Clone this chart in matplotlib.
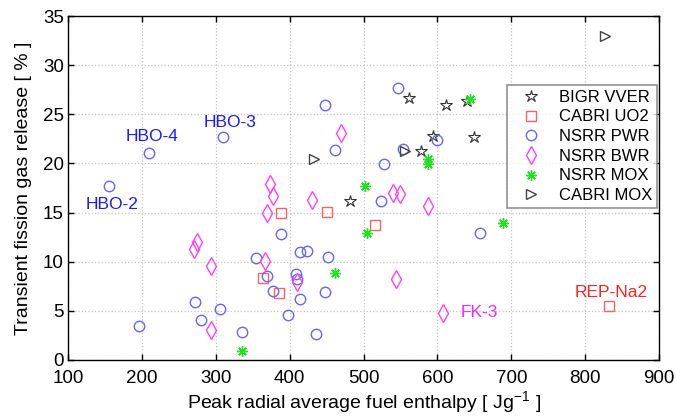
import matplotlib
matplotlib.use("Agg")
import matplotlib.pyplot as plt

plt.rcParams["font.family"] = ["Liberation Sans", "DejaVu Sans"]
plt.rcParams["mathtext.fontset"] = "custom"
plt.rcParams["mathtext.rm"] = "Liberation Sans"

# Peak radial average fuel enthalpy [J/g] and transient FGR [%] per test series
bigr_vver_h = [561, 612, 640, 594, 649, 578, 482]
bigr_vver_f = [26.7, 25.9, 26.4, 22.8, 22.7, 21.3, 16.2]

cabri_uo2_h = [388, 451, 516, 364, 385, 832]
cabri_uo2_f = [15.0, 15.1, 13.7, 8.3, 6.8, 5.5]

nsrr_pwr_h = [448, 462, 527, 209, 310, 155, 524, 388, 414, 423, 355, 452,
              369, 408, 410, 377, 414, 448, 272, 306, 398, 280, 196, 335,
              435, 658, 547, 600, 554]
nsrr_pwr_f = [25.9, 21.4, 19.9, 21.1, 22.7, 17.7, 16.2, 12.8, 11.0, 11.1,
              10.4, 10.5, 8.5, 8.7, 8.2, 7.0, 6.2, 6.9, 5.9, 5.15, 4.6, 4.1,
              3.5, 2.8, 2.6, 12.95, 27.7, 22.4, 21.5]

nsrr_bwr_h = [469, 373, 377, 430, 370, 274, 271, 367, 293, 410, 293, 540,
              549, 587, 544, 607]
nsrr_bwr_f = [23.1, 17.9, 16.7, 16.3, 15.0, 12.0, 11.3, 10.1, 9.6, 7.9,
              3.05, 17.0, 16.9, 15.7, 8.2, 4.75]

nsrr_mox_h = [502, 504, 461, 335, 689, 644, 587, 587]
nsrr_mox_f = [17.7, 12.9, 8.8, 0.9, 13.9, 26.6, 20.4, 19.9]

cabri_mox_h = [433, 556, 827]
cabri_mox_f = [20.4, 21.3, 33.0]

series_names = ["BIGR VVER", "CABRI UO2", "NSRR PWR", "NSRR BWR",
                "NSRR MOX", "CABRI MOX"]

# Named test rods
rod_labels = ["HBO-4", "HBO-3", "HBO-2", "FK-3", "REP-Na2"]
rod_label_h = [214, 320, 160, 657, 835]
rod_label_f = [22.7, 24.2, 15.8, 4.85, 6.9]
rod_label_colors = ["#1a1aff", "#1a1aff", "#1a1aff", "#ff22ff", "#ff2222"]

x_ticks = [100, 200, 300, 400, 500, 600, 700, 800, 900]
y_ticks = [0, 5, 10, 15, 20, 25, 30, 35]

fig = plt.figure(figsize=(6.76, 4.18), dpi=100)
ax = fig.add_axes([0.1006, 0.1388, 0.8744, 0.8229])

ax.plot(bigr_vver_h, bigr_vver_f, linestyle="none", marker="*", ms=9,
        mfc="none", mec="#333333", mew=0.8, label=series_names[0])
ax.plot(cabri_uo2_h, cabri_uo2_f, linestyle="none", marker="s", ms=6.5,
        mfc="none", mec="#ff6060", mew=1.0, label=series_names[1])
ax.plot(nsrr_pwr_h, nsrr_pwr_f, linestyle="none", marker="o", ms=7.5,
        mfc="none", mec="#6565ff", mew=1.0, label=series_names[2])
ax.plot(nsrr_bwr_h, nsrr_bwr_f, linestyle="none", marker="d", ms=9,
        mfc="none", mec="#ff40ff", mew=1.0, label=series_names[3])
ax.plot(nsrr_mox_h, nsrr_mox_f, linestyle="none", marker=(8, 2, 0), ms=7.5,
        mfc="none", mec="#22e022", mew=1.0, label=series_names[4])
ax.plot(cabri_mox_h, cabri_mox_f, linestyle="none", marker=">", ms=7.5,
        mfc="none", mec="#444444", mew=1.0, label=series_names[5])

for txt, hx, fy, col in zip(rod_labels, rod_label_h, rod_label_f,
                            rod_label_colors):
    ax.text(hx, fy, txt, color=col, fontsize=12.5, ha="center", va="center")

ax.set_xlim(100, 900)
ax.set_ylim(0, 35)
ax.set_xticks(x_ticks)
ax.set_yticks(y_ticks)
ax.tick_params(direction="in", length=4, width=1, top=True, right=True,
               labelsize=13.5)
ax.tick_params(axis="x", pad=7)
ax.tick_params(axis="y", pad=3)
ax.grid(True, linestyle=":", color="#c4c4c4", linewidth=0.9)
ax.set_axisbelow(True)
for sp in ax.spines.values():
    sp.set_linewidth(1.0)

ax.set_xlabel(r"Peak radial average fuel enthalpy [ Jg$^{\mathregular{-1}}$ ]",
              fontsize=14, labelpad=2)
ax.set_ylabel("Transient fission gas release [ % ]", fontsize=14, labelpad=8)

leg = ax.legend(loc="upper right", bbox_to_anchor=(0.997, 0.80),
                fontsize=12, frameon=True, fancybox=False,
                borderpad=0.3, labelspacing=0.28, handletextpad=0.6,
                handlelength=2.2, borderaxespad=0)
leg.get_frame().set_edgecolor("#777777")
leg.get_frame().set_linewidth(1.2)

fig.savefig("out.png", dpi=100)
